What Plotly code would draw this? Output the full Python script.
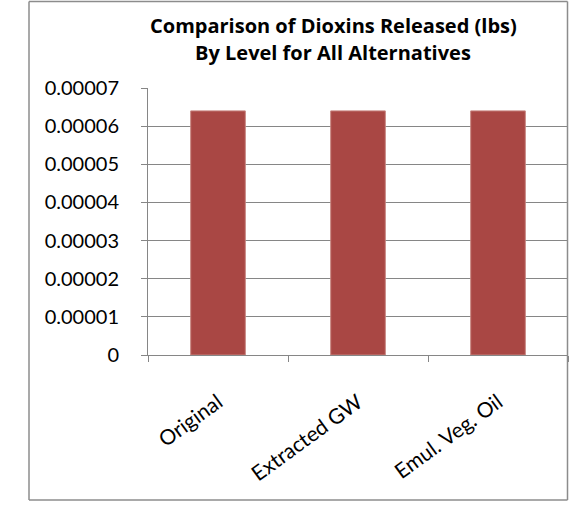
import plotly.graph_objects as go

categories = ["Original", "Extracted GW", "Emul. Veg. Oil"]
values = [0.000064, 0.000064, 0.000064]
y_tickvals = [0, 0.00001, 0.00002, 0.00003, 0.00004, 0.00005, 0.00006, 0.00007]
y_ticktext = ["0", "0.00001", "0.00002", "0.00003", "0.00004", "0.00005", "0.00006", "0.00007"]
title_lines = ["Comparison of Dioxins Released (lbs)", "By Level for All Alternatives"]

W, H = 578, 506
L, R, T, B = 148, 10, 88, 151
pw, ph = W - L - R, H - T - B

fig = go.Figure(go.Bar(
    x=categories, y=values,
    marker=dict(color="#A94744", line=dict(color="#C7847F", width=1)),
    width=0.39,
))

def px_x(px):
    return (px - L) / pw

def px_y(py):
    return (H - B - py) / ph

border = dict(color="#8C8C8C", width=1.5)
bx0, bx1, by0, by1 = px_x(29), px_x(567.5), px_y(500), px_y(1.5)
for x0, y0, x1, y1 in [(bx0, by0, bx0, by1), (bx1, by0, bx1, by1),
                       (bx0, by0, bx1, by0), (bx0, by1, bx1, by1)]:
    fig.add_shape(type="line", xref="paper", yref="paper",
                  x0=x0, y0=y0, x1=x1, y1=y1, line=border, layer="above")

title_font = "Open Sans, sans-serif"
for line, cy in zip(title_lines, [25, 53]):
    fig.add_annotation(text=line, xref="paper", yref="paper",
                       x=px_x(333), y=px_y(cy), xanchor="center", yanchor="middle",
                       showarrow=False,
                       font=dict(family=title_font, size=20, color="black", weight="bold"))

font = "Lato, Open Sans, sans-serif"
fig.update_layout(
    width=W, height=H,
    margin=dict(l=L, r=R, t=T, b=B),
    paper_bgcolor="white", plot_bgcolor="white",
    showlegend=False,
    font=dict(family=font, color="black"),
)
fig.update_yaxes(
    range=[0, 0.00007], tickvals=y_tickvals, ticktext=y_ticktext,
    showgrid=True, gridcolor="#868686", gridwidth=1,
    showline=True, linecolor="#868686", linewidth=1,
    ticks="outside", ticklen=6, tickcolor="#868686",
    tickfont=dict(size=20, family=font), ticklabelstandoff=18,
    zeroline=False,
)
fig.update_xaxes(
    type="category", tickson="boundaries",
    showline=True, linecolor="#868686", linewidth=1,
    ticks="outside", ticklen=6, tickcolor="#868686",
    showgrid=False, tickangle=-36, ticklabelstandoff=26,
    tickfont=dict(size=21, family=font),
)
fig.write_html("out.html", config={"displayModeBar": False},
               post_script="document.body.style.margin='0';document.body.style.overflow='hidden';")
